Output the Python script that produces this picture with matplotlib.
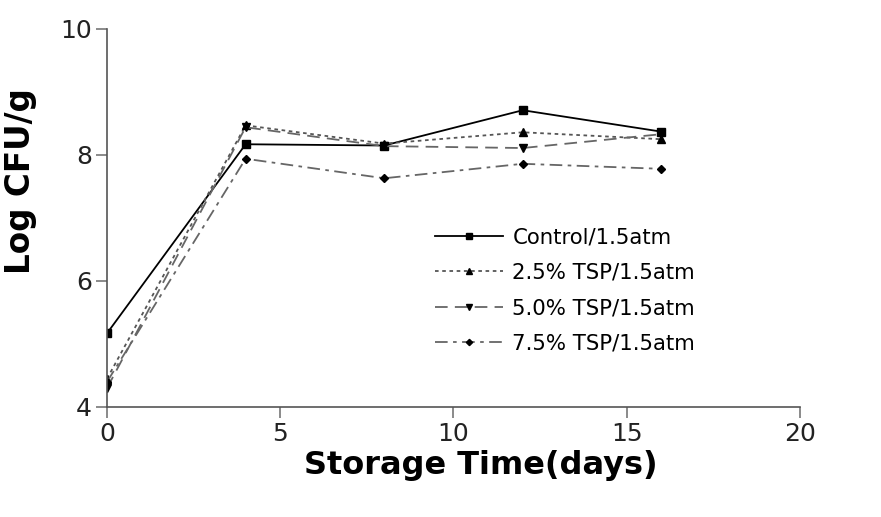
import matplotlib.pyplot as plt

plt.rcParams['font.family'] = ['DejaVu Sans']

days = [0, 4, 8, 12, 16]
control = [5.17, 8.17, 8.15, 8.71, 8.37]
tsp_25 = [4.45, 8.47, 8.18, 8.36, 8.25]
tsp_50 = [4.30, 8.44, 8.14, 8.11, 8.33]
tsp_75 = [4.40, 7.94, 7.63, 7.86, 7.78]
labels = ['Control/1.5atm', '2.5% TSP/1.5atm', '5.0% TSP/1.5atm', '7.5% TSP/1.5atm']

fig = plt.figure(figsize=(8.81, 5.17), dpi=100)
ax = fig.add_axes([0.1215, 0.2128, 0.7865, 0.7312])

ax.plot(days, control, color='black', lw=1.3, marker='s', ms=5.5, label=labels[0])
ax.plot(days, tsp_25, color='#555555', lw=1.3, ls=(0, (2, 2)), marker='^', ms=5.5,
        mfc='black', mec='black', label=labels[1])
ax.plot(days, tsp_50, color='#666666', lw=1.3, ls=(0, (7, 4)), marker='v', ms=5.5,
        mfc='black', mec='black', label=labels[2])
ax.plot(days, tsp_75, color='#666666', lw=1.3, ls=(0, (7, 3, 2, 3)), marker='D', ms=4,
        mfc='black', mec='black', label=labels[3])

ax.set_xlim(0, 20)
ax.set_ylim(4, 10)
ax.set_xticks([0, 5, 10, 15, 20])
ax.set_yticks([4, 6, 8, 10])
for s in ['top', 'right']:
    ax.spines[s].set_visible(False)
for s in ['left', 'bottom']:
    ax.spines[s].set_color('#555555')
    ax.spines[s].set_linewidth(1.2)
ax.tick_params(direction='out', length=8, width=1.2, color='#777777',
               labelsize=18, pad=3, labelcolor='#222222')

ax.set_xlabel('Storage Time(days)', fontsize=23, fontweight='bold')
ax.xaxis.set_label_coords(0.54, -0.113)
ax.xaxis.label.set_va('top')
ax.set_ylabel('Log CFU/g', fontsize=23.5, fontweight='bold')
ax.yaxis.set_label_coords(-0.101, 0.598)

ax.legend(loc='upper left', bbox_to_anchor=(0.473, 0.475), frameon=False,
          borderpad=0, borderaxespad=0, markerscale=0.8,
          fontsize=15.3, handlelength=3.2, labelspacing=0.72, handletextpad=0.45)

fig.savefig('out.png', dpi=100)
